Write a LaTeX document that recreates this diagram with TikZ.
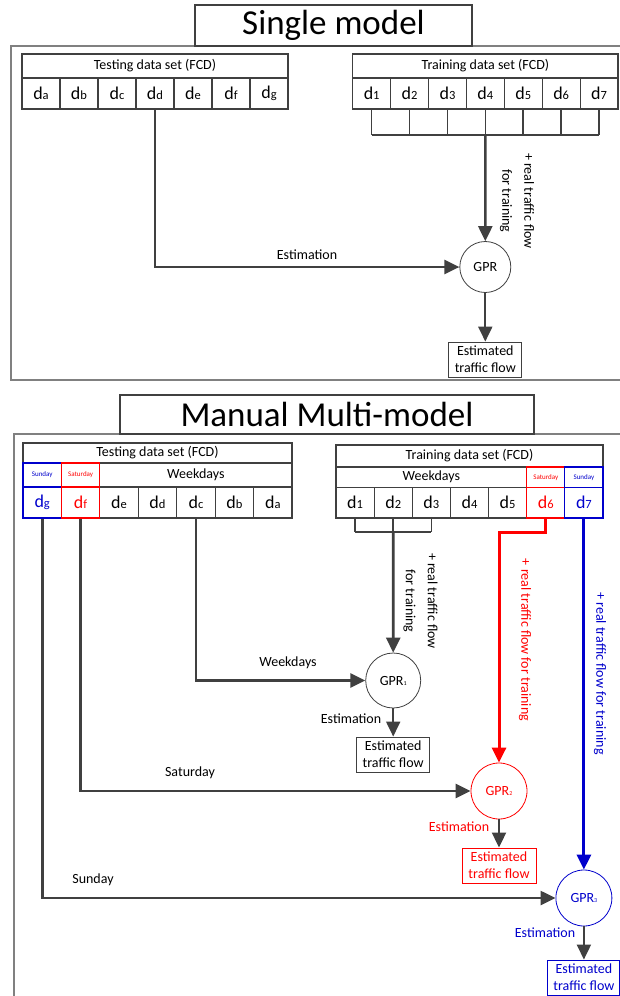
\documentclass[tikz,border=0pt]{standalone}
\usepackage{fontspec}
\setmainfont{Carlito}
\usetikzlibrary{arrows.meta,calc}
\definecolor{dk}{HTML}{404040}
\definecolor{frm}{HTML}{808080}
\definecolor{myred}{HTML}{FF0000}
\definecolor{myblue}{HTML}{0000CC}
\newcommand{\dl}[1]{d{\fontsize{12.5}{12.5}\selectfont #1}}
\newcommand{\gp}[1]{GPR{\fontsize{6}{6}\selectfont #1}}
\begin{document}
\begin{tikzpicture}[x=1pt,y=-1pt,
  cell/.style={draw=dk, line width=1.1pt, minimum width=38pt, minimum height=31pt, inner sep=0pt, font=\fontsize{18}{18}\selectfont},
  hdr/.style={draw=dk, line width=1.1pt, inner sep=0pt, font=\fontsize{14}{14}\selectfont},
  small/.style={draw=dk, line width=1.1pt, inner sep=0pt, font=\fontsize{7}{7}\selectfont},
  titlebox/.style={draw=dk, line width=1.2pt, fill=white, inner sep=0pt, font=\fontsize{35}{35}\selectfont},
  frame/.style={draw=frm, line width=1.2pt},
  gpr/.style={circle, draw=dk, line width=0.8pt, inner sep=0pt, font=\fontsize{14}{14}\selectfont},
  outbox/.style={draw=dk, line width=0.9pt, inner sep=0pt, align=center, font=\fontsize{14}{17}\selectfont},
  lbl/.style={inner sep=0pt, font=\fontsize{14}{14}\selectfont},
  rlbl/.style={inner sep=0pt, align=center, rotate=-90, font=\fontsize{14}{22}\selectfont},
  conn/.style={draw=dk, line width=2.6pt, -{Triangle[length=15pt,width=14pt]}},
  conntwo/.style={draw=dk, line width=2pt, -{Triangle[length=15pt,width=14pt]}},
  brkthin/.style={draw=dk, line width=1.6pt},
  brkthick/.style={draw=dk, line width=2.6pt},
]
\useasboundingbox (0,0) rectangle (619,996);
\fill[white] (0,0) rectangle (619,996);

% ================= Single model =================
\draw[frame] (11,46) rectangle (640,380);
\node[titlebox, minimum width=277pt, minimum height=41pt] (t1) at (333.5,25.5) {Single model};

\node[hdr, minimum width=266pt, minimum height=24pt] (sh1) at (155,66) {Testing data set (FCD)};
\foreach \l [count=\i] in {a,b,c,d,e,f,g}
  \node[cell] (sa\i) at ({22+38*(\i-0.5)},93.5) {\dl{\l}};

\node[hdr, minimum width=265.3pt, minimum height=24pt] (sh2) at (485.35,66) {Training data set (FCD)};
\foreach \l [count=\i] in {1,...,7}
  \node[cell, minimum width=37.9pt] (sb\i) at ({352.7+37.9*(\i-0.5)},93.5) {\dl{\l}};

\coordinate (brk) at (sb4.south |- 0,135);
\foreach \i in {1,...,7}
  \draw[brkthin] (sb\i.south) -- (sb\i.south |- brk);
\draw[brkthick] (sb1.south |- brk) -- (sb7.south |- brk);

\node[gpr, minimum size=51pt] (g0) at (485.3,267) {GPR};
\node[outbox, minimum width=73pt, minimum height=35pt] (o0) at (485.3,359.5) {Estimated\\traffic flow};

\draw[conn] (brk) -- (g0.north);
\node[rlbl] (r0) at (517,201) {+ real traffic flow\\for training};
\draw[conn] (sa4.south) |- (g0.west);
\node[lbl] (e0) at (307,255) {Estimation};
\draw[conntwo] (g0.south) -- (o0.north);

% ================= Manual Multi-model =================
\draw[frame] (14,434) rectangle (640,1010);
\node[titlebox, minimum width=414pt, minimum height=39pt] (t2) at (327,414.5) {Manual Multi-model};

% testing table
\node[hdr, minimum width=269pt, minimum height=20pt] (mh1) at (157.5,453) {Testing data set (FCD)};
\node[hdr, minimum width=192.1pt, minimum height=24pt] (mw1) at (195.9,475) {Weekdays};
\foreach \l [count=\i from 3] in {e,d,c,b,a}
  \node[cell, minimum width=38.43pt] (nc\i) at ({23+38.43*(\i-0.5)},502.5) {\dl{\l}};
\node[small, draw=myblue, text=myblue, minimum width=38.43pt, minimum height=24pt] (msu1) at (42.2,475) {Sunday};
\node[cell, draw=myblue, text=myblue, minimum width=38.43pt] (nc1) at (42.2,502.5) {\dl{g}};
\node[small, draw=myred, text=myred, minimum width=38.43pt, minimum height=24pt] (msa1) at (80.6,475) {Saturday};
\node[cell, draw=myred, text=myred, minimum width=38.43pt] (nc2) at (80.6,502.5) {\dl{f}};

% training table
\node[hdr, minimum width=267pt, minimum height=22pt] (mh2) at (469.5,456) {Training data set (FCD)};
\node[hdr, minimum width=190.7pt, minimum height=20.5pt] (mw2) at (431.35,477.25) {Weekdays};
\foreach \l [count=\i] in {1,...,5}
  \node[cell, minimum width=38.14pt, minimum height=30.5pt] (nb\i) at ({336+38.14*(\i-0.5)},502.75) {\dl{\l}};
\node[small, draw=myred, text=myred, minimum width=38.14pt, minimum height=20.5pt] (msa2) at (545.8,477.25) {Saturday};
\node[cell, draw=myred, text=myred, minimum width=38.14pt, minimum height=30.5pt] (nb6) at (545.8,502.75) {\dl{6}};
\node[small, draw=myblue, text=myblue, minimum width=38.14pt, minimum height=20.5pt] (msu2) at (583.9,477.25) {Sunday};
\node[cell, draw=myblue, text=myblue, minimum width=38.14pt, minimum height=30.5pt] (nb7) at (583.9,502.75) {\dl{7}};

% GPR nodes
\node[gpr, minimum size=55pt] (g1) at (393.2,680.5) {\gp{1}};
\node[outbox, minimum width=73pt, minimum height=35pt] (o1) at (393.2,754.5) {Estimated\\traffic flow};
\node[gpr, draw=myred, text=myred, minimum size=56pt] (g2) at (499,791) {\gp{2}};
\node[outbox, draw=myred, text=myred, minimum width=74pt, minimum height=35pt] (o2) at (499,865.5) {Estimated\\traffic flow};
\node[gpr, draw=myblue, text=myblue, minimum size=56pt] (g3) at (583.9,898) {\gp{3}};
\node[outbox, draw=myblue, text=myblue, minimum width=72pt, minimum height=35pt] (o3) at (583.9,977.5) {Estimated\\traffic flow};

% weekday bracket
\coordinate (b1) at (nb2.south |- 0,532);
\foreach \i in {1,2,3}
  \draw[brkthin] (nb\i.south) -- (nb\i.south |- b1);
\draw[brkthick] (nb1.south |- b1) -- (nb3.south |- b1);
\draw[conn] (b1) -- (g1.north);
\node[rlbl] (r1) at (420.5,601) {+ real traffic flow\\for training};

\draw[conn] (nc5.south) |- (g1.west);
\node[lbl] (w1) at (288,663) {Weekdays};
\draw[conntwo] (g1.south) -- (o1.north);
\node[lbl] (e1) at (351,719) {Estimation};

% saturday
\draw[draw=myred, line width=3pt, -{Triangle[length=15pt,width=14pt]}] (nb6.south) -- ++(0,14) -| (g2.north);
\node[rlbl, text=myred] (r2) at (525,640) {+ real traffic flow for training};
\draw[conn] (nc2.south) |- (g2.west);
\node[lbl] (s2) at (190,773) {Saturday};
\draw[conntwo] (g2.south) -- (o2.north);
\node[lbl, text=myred] (e2) at (459,827) {Estimation};

% sunday
\draw[draw=myblue, line width=3pt, -{Triangle[length=15pt,width=14pt]}] (nb7.south) -- (g3.north);
\node[rlbl, text=myblue] (r3) at (600,673.5) {+ real traffic flow for training};
\draw[conn] (nc1.south) |- (g3.west);
\node[lbl] (s3) at (93,880) {Sunday};
\draw[conntwo] (g3.south) -- (o3.north);
\node[lbl, text=myblue] (e3) at (545,933) {Estimation};
\end{tikzpicture}
\end{document}
